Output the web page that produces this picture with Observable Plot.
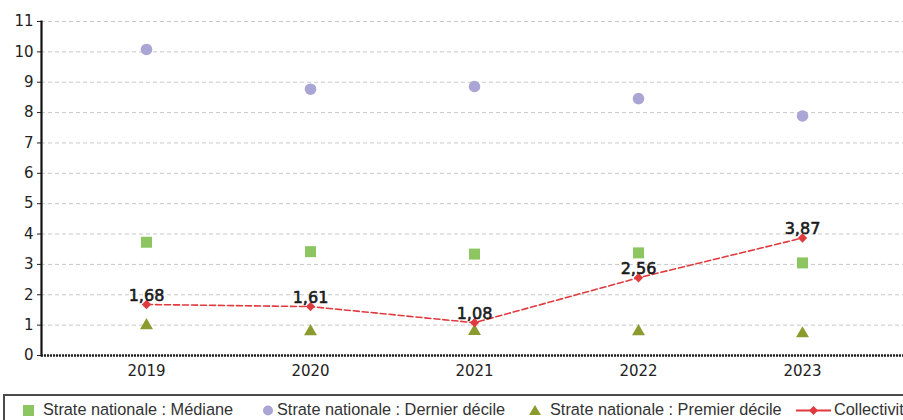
<!DOCTYPE html>
<html>
<head>
<meta charset="utf-8">
<script src="https://cdn.jsdelivr.net/npm/d3@7"></script>
<script src="https://cdn.jsdelivr.net/npm/@observablehq/plot@0.6"></script>
<style>
  html, body { margin: 0; padding: 0; background: #fff; }
  body { width: 903px; height: 420px; overflow: hidden; position: relative; font-family: "DejaVu Sans", sans-serif; }
  #chart { position: absolute; left: 0; top: 0; }
  #legend { position: absolute; left: 3px; top: 394px; width: 940px; height: 40px; border: 2px solid #4a4a4a; box-sizing: border-box;
    font-family: "Liberation Sans", Arial, sans-serif; font-size: 16.3px; color: #333; }
  .item { position: absolute; top: 4px; white-space: nowrap; }
  .sym { position: absolute; }
</style>
</head>
<body>
<div id="chart"></div>
<div id="legend"></div>
<script>
const years = ["2019", "2020", "2021", "2022", "2023"];
const mediane = [3.73, 3.42, 3.34, 3.38, 3.05];
const dernierDecile = [10.08, 8.77, 8.86, 8.46, 7.89];
const premierDecile = [0.99, 0.79, 0.80, 0.79, 0.72];
const collectivite = [1.68, 1.61, 1.08, 2.56, 3.87];
const yTicks = [0, 1, 2, 3, 4, 5, 6, 7, 8, 9, 10, 11];
const legendLabels = ["Strate nationale : Médiane", "Strate nationale : Dernier décile", "Strate nationale : Premier décile", "Collectivité"];

const colMed = "#8dc661", colDer = "#a9a5d5", colPre = "#8c9b2d", colCol = "#e0393e";

const rows = (vals) => years.map((y, i) => ({year: y, value: vals[i]}));
const fmt = (v) => v.toFixed(2).replace(".", ",");

const chart = Plot.plot({
  width: 903,
  height: 392,
  marginLeft: 41,
  marginRight: 0,
  marginTop: 21,
  marginBottom: 37,
  style: {fontFamily: "DejaVu Sans, sans-serif", background: "#fff", overflow: "visible"},
  x: {type: "point", domain: years, range: [144.5, 802.5], padding: 0, label: null},
  y: {domain: [0, 11], label: null},
  marks: [
    Plot.gridY(yTicks, {stroke: "#c8c8c8", strokeOpacity: 1, strokeDasharray: "4,3", strokeWidth: 1}),
    Plot.axisY(yTicks, {tickSize: 4, tickPadding: 4, fontSize: 15, fill: "#222", stroke: "#222", label: null}),
    Plot.axisX({tickSize: 0, tickPadding: 10, fontSize: 15, fill: "#222", label: null}),
    Plot.frame({anchor: "left", stroke: "#111", strokeWidth: 2.2}),
    Plot.ruleY([0], {stroke: "#222", strokeWidth: 2.6, strokeDasharray: "2,1"}),
    Plot.dot(rows(mediane), {x: "year", y: "value", symbol: "square", r: 6.2, fill: colMed, stroke: "none"}),
    Plot.dot(rows(dernierDecile), {x: "year", y: "value", symbol: "circle", r: 5.8, fill: colDer, stroke: "none"}),
    Plot.dot(rows(premierDecile), {x: "year", y: "value", symbol: "triangle", r: 4.8, fill: colPre, stroke: "none"}),
    Plot.line(rows(collectivite), {x: "year", y: "value", stroke: colCol, strokeWidth: 1.6, strokeDasharray: "6,3"}),
    Plot.dot(rows(collectivite), {x: "year", y: "value", symbol: "diamond2", r: 4.2, fill: colCol, stroke: "none"}),
    Plot.text(rows(collectivite), {x: "year", y: "value", text: d => fmt(d.value), dy: -9, fontSize: 16, fill: "#1a1a1a", stroke: "#1a1a1a", strokeWidth: 0.6, lineAnchor: "middle"})
  ]
});
document.getElementById("chart").appendChild(chart);

// Legend
const legend = document.getElementById("legend");
const itemPos = [
  {sx: 16, tx: 38},
  {sx: 255, tx: 272},
  {sx: 522, tx: 545},
  {sx: 788, tx: 829}
];
const svgNS = "http://www.w3.org/2000/svg";
function sym(kind, x) {
  const s = document.createElementNS(svgNS, "svg");
  s.setAttribute("width", kind === "line" ? 40 : 16);
  s.setAttribute("height", 16);
  s.setAttribute("class", "sym");
  s.style.left = x + "px";
  s.style.top = "6px";
  let html = "";
  if (kind === "square") html = `<rect x="2" y="3" width="11" height="11" fill="${colMed}"/>`;
  if (kind === "circle") html = `<circle cx="8" cy="8.5" r="5" fill="${colDer}"/>`;
  if (kind === "triangle") html = `<path d="M8,3 L14,13 L2,13 Z" fill="${colPre}"/>`;
  if (kind === "line") html = `<line x1="3" y1="8.5" x2="38" y2="8.5" stroke="${colCol}" stroke-width="2"/><path d="M20.5,4 L25,8.5 L20.5,13 L16,8.5 Z" fill="${colCol}"/>`;
  s.innerHTML = html;
  legend.appendChild(s);
}
const kinds = ["square", "circle", "triangle", "line"];
legendLabels.forEach((lab, i) => {
  sym(kinds[i], itemPos[i].sx);
  const t = document.createElement("div");
  t.className = "item";
  t.style.left = itemPos[i].tx + "px";
  t.textContent = lab;
  legend.appendChild(t);
});
</script>
</body>
</html>
